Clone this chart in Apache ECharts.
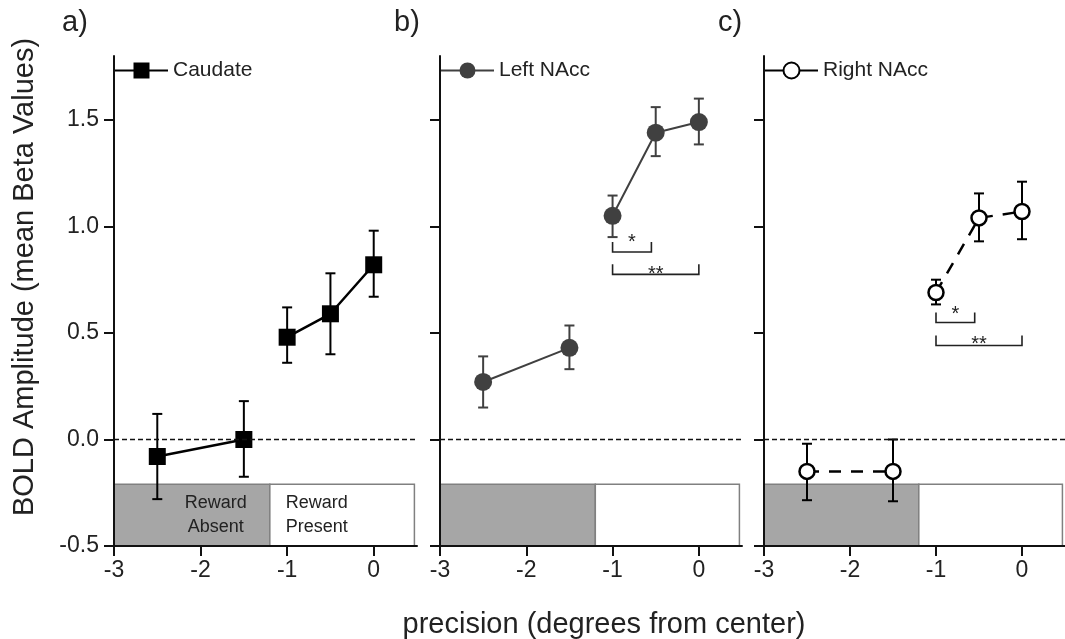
<!DOCTYPE html>
<html>
<head>
<meta charset="utf-8">
<script src="https://cdn.jsdelivr.net/npm/echarts@6/dist/echarts.min.js"></script>
<style>
  html, body { margin: 0; padding: 0; background: #fff; }
  #main { width: 1065px; height: 639px; }
</style>
</head>
<body>
<div id="main"></div>
<script>
// Data
var xValues = [-2.5, -1.5, -1, -0.5, 0];
var segments = [[0, 1], [2, 3, 4]];   // absent / present points joined by lines

var caudateMean = [-0.08, 0.0, 0.48, 0.59, 0.82];
var caudateLow  = [-0.28, -0.175, 0.36, 0.40, 0.67];
var caudateHigh = [0.12, 0.18, 0.62, 0.78, 0.98];

var leftMean = [0.27, 0.43, 1.05, 1.44, 1.49];
var leftLow  = [0.15, 0.33, 0.95, 1.33, 1.385];
var leftHigh = [0.39, 0.535, 1.145, 1.56, 1.60];

var rightMean = [-0.15, -0.15, 0.69, 1.04, 1.07];
var rightLow  = [-0.285, -0.29, 0.634, 0.93, 0.94];
var rightHigh = [-0.02, 0.0, 0.75, 1.155, 1.21];

var regionEdges = [[-3, -1.2], [-1.2, 0.47]];
var regionRange = [-0.5, -0.21];
var regionText = ['Reward\nAbsent', 'Reward\nPresent'];

// [x1, x2, bracket y, label y, label]
var bracketsLeft  = [[-1, -0.55, 0.88, 0.925, '*'], [-1, 0, 0.775, 0.775, '**']];
var bracketsRight = [[-1, -0.55, 0.549, 0.585, '*'], [-1, 0, 0.441, 0.445, '**']];

var xTicks = [-3, -2, -1, 0];
var yTicks = [-0.5, 0, 0.5, 1, 1.5];

var FONT = "'Liberation Sans', Arial, sans-serif";

var panels = [
  { name: 'Caudate', mean: caudateMean, low: caudateLow, high: caudateHigh,
    color: '#000', symbol: 'rect', size: 17, fill: '#000', lineType: 'solid', lineWidth: 2.5,
    brackets: [], labels: true, left: 114, right: 648, legendLeft: 109 },
  { name: 'Left NAcc', mean: leftMean, low: leftLow, high: leftHigh,
    color: '#404040', symbol: 'circle', size: 18, fill: '#404040', lineType: 'solid', lineWidth: 2,
    brackets: bracketsLeft, labels: false, left: 440, right: 323, legendLeft: 435 },
  { name: 'Right NAcc', mean: rightMean, low: rightLow, high: rightHigh,
    color: '#000', symbol: 'circle', size: 15, fill: '#fff', lineType: [12, 10], lineWidth: 2.5,
    brackets: bracketsRight, labels: false, left: 764, right: -3, legendLeft: 759 }
];

var chart = echarts.init(document.getElementById('main'));

var grids = [], xAxes = [], yAxes = [], series = [], legends = [];

panels.forEach(function (p, k) {
  grids.push({ left: p.left, right: p.right, top: 56, bottom: 93 });

  xAxes.push({
    type: 'value', gridIndex: k, min: -3, max: 0.5, z: 10,
    splitLine: { show: false },
    axisLine: { onZero: false, lineStyle: { color: '#111', width: 2 } },
    axisTick: { length: 10, lineStyle: { color: '#111', width: 2 }, customValues: xTicks },
    axisLabel: { fontSize: 23, color: '#222', fontFamily: FONT, margin: 13, customValues: xTicks }
  });

  yAxes.push({
    type: 'value', gridIndex: k, min: -0.5, max: 1.8, z: 10,
    splitLine: { show: false },
    axisLine: { show: true, onZero: false, lineStyle: { color: '#111', width: 2 } },
    axisTick: { show: true, length: 10, lineStyle: { color: '#111', width: 2 }, customValues: yTicks },
    axisLabel: {
      show: p.labels, fontSize: 23, color: '#222', fontFamily: FONT, margin: 15,
      customValues: yTicks,
      formatter: function (v) { return v.toFixed(1); }
    }
  });

  // reward regions + zero line
  series.push({
    type: 'custom', xAxisIndex: k, yAxisIndex: k, z: 1, silent: true,
    data: regionEdges,
    renderItem: function (params, api) {
      var i = params.dataIndex;
      var a = api.coord([regionEdges[i][0], regionRange[1]]);
      var b = api.coord([regionEdges[i][1], regionRange[0]]);
      var children = [{
        type: 'rect',
        shape: { x: a[0], y: a[1], width: b[0] - a[0], height: b[1] - a[1] },
        style: { fill: i === 0 ? '#a6a6a6' : '#fff', stroke: '#808080', lineWidth: 1.5 }
      }];
      if (p.labels) {
        children.push({
          type: 'text',
          style: {
            text: regionText[i],
            x: i === 0 ? b[0] - 54 : a[0] + 16,
            y: (a[1] + b[1]) / 2,
            align: i === 0 ? 'center' : 'left',
            verticalAlign: 'middle',
            lineHeight: 24,
            font: '18px ' + FONT,
            fill: '#222'
          }
        });
      }
      return { type: 'group', children: children };
    },
    markLine: {
      silent: true, symbol: ['none', 'none'], label: { show: false },
      lineStyle: { type: [5, 3], color: '#111', width: 1.3 },
      data: [{ yAxis: 0 }]
    }
  });

  // error bars
  series.push({
    type: 'custom', xAxisIndex: k, yAxisIndex: k, z: 2, silent: true,
    data: xValues.map(function (x, i) { return [x, p.low[i], p.high[i]]; }),
    renderItem: function (params, api) {
      var top = api.coord([api.value(0), api.value(2)]);
      var bot = api.coord([api.value(0), api.value(1)]);
      var hw = 5;
      function seg(x1, y1, x2, y2) {
        return { type: 'line', shape: { x1: x1, y1: y1, x2: x2, y2: y2 },
                 style: { stroke: p.color, lineWidth: 2 } };
      }
      return { type: 'group', children: [
        seg(top[0], top[1], bot[0], bot[1]),
        seg(top[0] - hw, top[1], top[0] + hw, top[1]),
        seg(bot[0] - hw, bot[1], bot[0] + hw, bot[1])
      ] };
    }
  });

  // lines with markers
  segments.forEach(function (idx) {
    series.push({
      name: p.name, type: 'line', xAxisIndex: k, yAxisIndex: k, z: 3,
      data: idx.map(function (i) { return [xValues[i], p.mean[i]]; }),
      symbol: p.symbol, symbolSize: p.size,
      itemStyle: { color: p.fill, borderColor: p.color, borderWidth: p.fill === '#fff' ? 2.5 : 0 },
      lineStyle: { color: p.color, width: p.lineWidth, type: p.lineType }
    });
  });

  // significance brackets
  if (p.brackets.length) {
    series.push({
      type: 'custom', xAxisIndex: k, yAxisIndex: k, z: 4, silent: true,
      data: p.brackets.map(function (b) { return [b[0], b[2]]; }),
      renderItem: function (params, api) {
        var b = p.brackets[params.dataIndex];
        var l = api.coord([b[0], b[2]]);
        var r = api.coord([b[1], b[2]]);
        var t = api.coord([(b[0] + b[1]) / 2, b[3]]);
        return { type: 'group', children: [
          { type: 'polyline',
            shape: { points: [[l[0], l[1] - 10], l, r, [r[0], r[1] - 10]] },
            style: { stroke: '#222', lineWidth: 1.6, fill: null } },
          { type: 'text',
            style: { text: b[4], x: t[0], y: t[1], align: 'center', verticalAlign: 'middle',
                     font: '20px ' + FONT, fill: '#222' } }
        ] };
      }
    });
  }

  legends.push({
    data: [p.name], left: p.legendLeft, top: 55,
    itemWidth: 53, itemHeight: 20, selectedMode: false,
    lineStyle: { type: 'solid' },
    textStyle: { fontSize: 21, color: '#222', fontFamily: FONT }
  });
});

var option = {
  backgroundColor: '#fff',
  animation: false,
  textStyle: { fontFamily: FONT },
  title: [
    { text: 'a)', left: 62, top: 8, padding: 0, textStyle: { fontSize: 29, fontWeight: 'normal', color: '#222', fontFamily: FONT } },
    { text: 'b)', left: 394, top: 8, padding: 0, textStyle: { fontSize: 29, fontWeight: 'normal', color: '#222', fontFamily: FONT } },
    { text: 'c)', left: 718, top: 8, padding: 0, textStyle: { fontSize: 29, fontWeight: 'normal', color: '#222', fontFamily: FONT } }
  ],
  legend: legends,
  grid: grids,
  xAxis: xAxes,
  yAxis: yAxes,
  graphic: [
    { type: 'text', x: 25, y: 277, rotation: Math.PI / 2,
      style: { text: 'BOLD Amplitude (mean Beta Values)', align: 'center', verticalAlign: 'middle',
               font: '29px ' + FONT, fill: '#222' } },
    { type: 'text', x: 604, y: 625,
      style: { text: 'precision (degrees from center)', align: 'center', verticalAlign: 'middle',
               font: '29px ' + FONT, fill: '#222' } }
  ],
  series: series
};

chart.setOption(option);

window.addEventListener('resize', function () {
  chart.resize();
});
</script>
</body>
</html>
